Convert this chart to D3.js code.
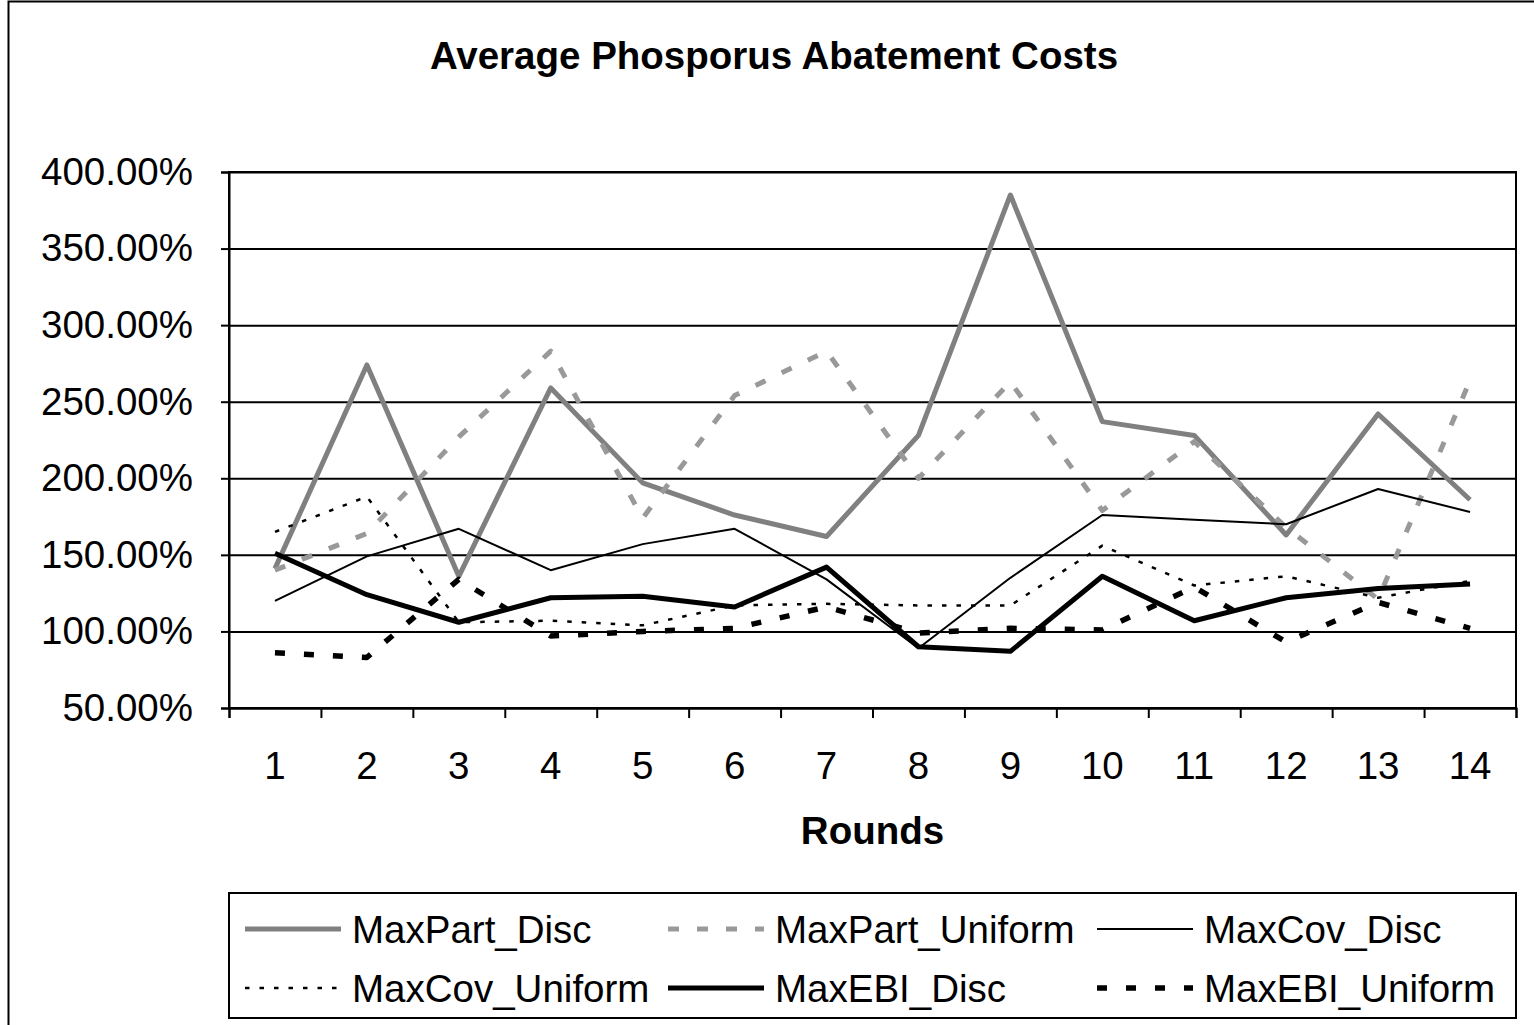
<!DOCTYPE html>
<html>
<head>
<meta charset="utf-8">
<script src="https://cdn.jsdelivr.net/npm/d3@7"></script>
<style>
  body { margin: 0; background: #fff; }
  text { font-family: "Liberation Sans", Arial, sans-serif; }
</style>
</head>
<body>
<div id="chart"></div>
<script>
// values (percent)
var rounds = ["1","2","3","4","5","6","7","8","9","10","11","12","13","14"];
var maxPartDisc    = [141, 274, 136, 259, 197, 176, 162, 228, 385, 237, 228, 163, 242, 186];
var maxPartUniform = [140, 164, 227, 283, 174, 254, 283, 200, 263, 179, 224, 168, 121, 264];
var maxCovDisc     = [120, 149, 167, 140, 157, 167, 134, 89, 135, 176, 173, 170, 193, 178];
var maxCovUniform  = [165, 188, 106, 107, 104, 117, 118, 117, 117, 156, 130, 136, 122, 133];
var maxEbiDisc     = [151, 124, 106, 122, 123, 116, 142, 90, 87, 136, 107, 122, 128, 131];
var maxEbiUniform  = [86, 83, 134, 97, 100, 102, 116, 99, 102, 101, 129, 93, 119, 102];
var yTicks = [50, 100, 150, 200, 250, 300, 350, 400];

var series = [
    {name: "MaxPart_Disc",    values: maxPartDisc,    color: "#808080", width: 5,   dash: null},
    {name: "MaxPart_Uniform", values: maxPartUniform, color: "#999999", width: 5,   dash: "11,18"},
    {name: "MaxCov_Disc",     values: maxCovDisc,     color: "#000000", width: 2,   dash: null},
    {name: "MaxCov_Uniform",  values: maxCovUniform,  color: "#000000", width: 2.5, dash: "4.5,10"},
    {name: "MaxEBI_Disc",     values: maxEbiDisc,     color: "#000000", width: 5,   dash: null},
    {name: "MaxEBI_Uniform",  values: maxEbiUniform,  color: "#000000", width: 5.5, dash: "10,19"}
];

var W = 1534, H = 1025;
var fontSize = "38.5px";
var plot = {left: 229, top: 172, right: 1516, bottom: 708};

var svg = d3.select("#chart")
    .append("svg")
    .attr("width", W)
    .attr("height", H);

// outer chart frame (runs past the right and bottom edges)
svg.append("rect")
    .attr("x", 8.5).attr("y", 1.5)
    .attr("width", 1540).attr("height", 1100)
    .attr("fill", "#fff")
    .attr("stroke", "#000")
    .attr("stroke-width", 2);

svg.append("text")
    .attr("x", 774).attr("y", 69)
    .attr("text-anchor", "middle")
    .attr("font-size", fontSize)
    .attr("font-weight", "bold")
    .text("Average Phosporus Abatement Costs");

var x = d3.scaleBand()
    .domain(rounds)
    .range([plot.left, plot.right])
    .padding(0);

var xEdge = d3.scaleLinear()
    .domain([0, rounds.length])
    .range([plot.left, plot.right]);

var y = d3.scaleLinear()
    .domain([50, 400])
    .range([plot.bottom, plot.top]);

// gridlines
svg.append("g")
    .attr("transform", "translate(" + plot.left + ",0)")
    .call(d3.axisLeft(y).tickValues(yTicks).tickSize(-(plot.right - plot.left)).tickFormat(""))
    .call(function(g) {
        g.select(".domain").remove();
        g.selectAll("line").attr("stroke", "#000").attr("stroke-width", 2);
    });

// plot border
svg.append("rect")
    .attr("x", plot.left).attr("y", plot.top)
    .attr("width", plot.right - plot.left)
    .attr("height", plot.bottom - plot.top)
    .attr("fill", "none")
    .attr("stroke", "#000")
    .attr("stroke-width", 2);

// y axis
svg.append("g")
    .attr("transform", "translate(" + plot.left + ",0)")
    .call(d3.axisLeft(y).tickValues(yTicks).tickSize(8).tickPadding(28)
        .tickFormat(function(d) { return d.toFixed(2) + "%"; }))
    .call(function(g) {
        g.select(".domain").attr("stroke", "#000").attr("stroke-width", 2);
        g.selectAll("line").attr("stroke", "#000").attr("stroke-width", 2);
        g.selectAll("text").attr("font-size", fontSize).attr("fill", "#000")
            .attr("font-family", "Liberation Sans, Arial, sans-serif");
    });

// x axis: ticks between categories
svg.append("g")
    .attr("transform", "translate(0," + plot.bottom + ")")
    .call(d3.axisBottom(xEdge).tickValues(d3.range(rounds.length + 1)).tickSize(10).tickFormat(""))
    .call(function(g) {
        g.select(".domain").attr("stroke", "#000").attr("stroke-width", 2);
        g.selectAll("line").attr("stroke", "#000").attr("stroke-width", 2);
    });

// x axis: labels at category centres
svg.append("g")
    .attr("transform", "translate(0," + plot.bottom + ")")
    .call(d3.axisBottom(x).tickSize(0).tickPadding(44))
    .call(function(g) {
        g.select(".domain").remove();
        g.selectAll("text").attr("font-size", fontSize).attr("fill", "#000")
            .attr("font-family", "Liberation Sans, Arial, sans-serif");
    });

svg.append("text")
    .attr("x", (plot.left + plot.right) / 2).attr("y", 844)
    .attr("text-anchor", "middle")
    .attr("font-size", fontSize)
    .attr("font-weight", "bold")
    .text("Rounds");

var line = d3.line()
    .x(function(d, i) { return x(rounds[i]) + x.bandwidth() / 2; })
    .y(function(d) { return y(d); });

svg.selectAll("path.series")
    .data(series)
    .enter()
    .append("path")
    .attr("class", "series")
    .attr("d", function(s) { return line(s.values); })
    .attr("fill", "none")
    .attr("stroke", function(s) { return s.color; })
    .attr("stroke-width", function(s) { return s.width; })
    .attr("stroke-dasharray", function(s) { return s.dash; })
    .attr("stroke-linejoin", "round");

// legend
svg.append("rect")
    .attr("x", 229).attr("y", 893)
    .attr("width", 1287).attr("height", 125)
    .attr("fill", "#fff")
    .attr("stroke", "#000")
    .attr("stroke-width", 2);

var colX = [245, 668, 1097];
var rowY = [929, 988];

var legend = svg.selectAll("g.legend")
    .data(series)
    .enter()
    .append("g")
    .attr("class", "legend")
    .attr("transform", function(d, i) {
        return "translate(" + colX[i % 3] + "," + rowY[Math.floor(i / 3)] + ")";
    });

legend.append("line")
    .attr("x1", 0).attr("x2", 96)
    .attr("y1", 0).attr("y2", 0)
    .attr("stroke", function(s) { return s.color; })
    .attr("stroke-width", function(s) { return s.width; })
    .attr("stroke-dasharray", function(s) { return s.dash; });

legend.append("text")
    .attr("x", 107).attr("y", 14)
    .attr("font-size", fontSize)
    .text(function(s) { return s.name; });
</script>
</body>
</html>
